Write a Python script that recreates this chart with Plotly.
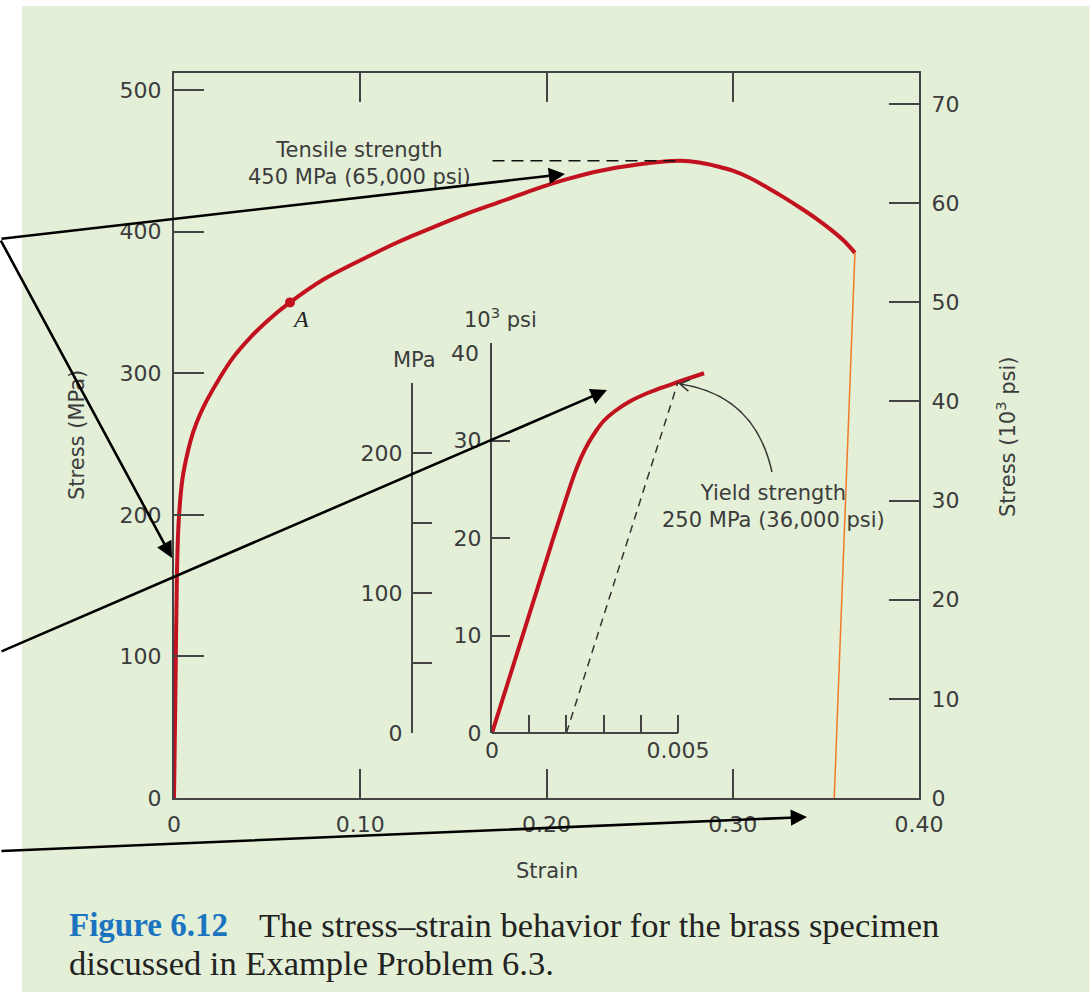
import math
import plotly.graph_objects as go

# ---------------- data ----------------
# main stress-strain curve for brass (strain, stress in MPa)
strain = [0, 0.0008, 0.0016, 0.0025, 0.0045, 0.0075, 0.0102, 0.0140, 0.0177,
          0.0247, 0.0317, 0.0408, 0.0510, 0.0623, 0.0800, 0.1036, 0.1210,
          0.1390, 0.1570, 0.1750, 0.1930, 0.2110, 0.2290, 0.2500, 0.2620,
          0.2720, 0.2820, 0.2920, 0.3000, 0.3090, 0.3180, 0.3270, 0.3360,
          0.3450, 0.3540, 0.3605, 0.3656]
stress_mpa = [0, 80, 160, 195, 225, 245, 258, 271, 281,
              297, 311, 325, 338, 350, 366, 382, 393,
              403, 412.5, 421, 429.5, 437, 443, 447.5, 449.3,
              450, 448.8, 446, 443, 438, 431.5, 424.5, 417,
              409, 400, 392.5, 385]

# point A on the curve
point_a_strain = 0.0623
point_a_mpa = 350

# fracture line
fracture_strain = [0.3656, 0.3544]
fracture_mpa = [385, -3]

# tensile strength
tensile_mpa = 450
tensile_psi = "65,000"
tensile_guide_strain = [0.171, 0.272]

# inset: initial portion (strain, stress in 10^3 psi)
inset_strain = [0, 0.0008, 0.0016, 0.0022, 0.0024, 0.0026, 0.0028, 0.0030,
                0.0033, 0.0037, 0.0042, 0.0050, 0.0057]
inset_ksi = [0, 9.7, 19.4, 26.4, 28.3, 29.8, 31.0, 32.0,
             33.0, 34.0, 34.9, 36.0, 36.9]

# yield strength (0.002 offset)
yield_mpa = 250
yield_psi = "36,000"
offset_strain = [0.002, 0.0050]
offset_ksi = [0, 36.0]

# tick values
main_x_ticks = [0, 0.1, 0.2, 0.3, 0.4]
main_x_text = ["0", "0.10", "0.20", "0.30", "0.40"]
main_mpa_ticks = [0, 100, 200, 300, 400, 500]
main_psi_ticks = [0, 10, 20, 30, 40, 50, 60, 70]
inset_x_labels = [0, 0.005]
inset_x_text = ["0", "0.005"]
inset_x_step = 0.001
inset_psi_labels = [0, 10, 20, 30]
inset_psi_top = 40
inset_psi_step = 10
inset_mpa_labels = [0, 100, 200]
inset_mpa_top = 250
inset_mpa_step = 50

# ---------------- layout geometry ----------------
W, H = 1089, 996
L, T, R, B = 174, 73, 919, 798


def px_x(x):
    return (x - L) / (R - L)


def px_y(y):
    return (B - y) / (B - T)


RED = "#c3121f"
AX = "#444444"
TXT = "#3c3c3c"
GREEN = "#e3efd6"
FONT = "DejaVu Sans"
SERIF = "Liberation Serif"

fig = go.Figure()

# main curve
fig.add_trace(go.Scatter(x=strain, y=stress_mpa, mode="lines",
                         line=dict(color=RED, width=4, shape="spline", smoothing=0.8),
                         hoverinfo="skip", showlegend=False))
# tensile strength guide
fig.add_trace(go.Scatter(x=tensile_guide_strain, y=[tensile_mpa, tensile_mpa], mode="lines",
                         line=dict(color="#111111", width=1.5, dash="12px,7px"),
                         hoverinfo="skip", showlegend=False))
# fracture line
fig.add_trace(go.Scatter(x=fracture_strain, y=fracture_mpa, mode="lines",
                         line=dict(color="#f07a28", width=1.5),
                         hoverinfo="skip", showlegend=False))
# point A
fig.add_trace(go.Scatter(x=[point_a_strain], y=[point_a_mpa], mode="markers",
                         marker=dict(color=RED, size=10),
                         hoverinfo="skip", showlegend=False))
# psi axis companion (right)
fig.add_trace(go.Scatter(x=[None], y=[None], yaxis="y2", showlegend=False, hoverinfo="skip"))

# inset curve
fig.add_trace(go.Scatter(x=inset_strain, y=inset_ksi, xaxis="x2", yaxis="y3", mode="lines",
                         line=dict(color=RED, width=4, shape="spline", smoothing=0.8),
                         hoverinfo="skip", showlegend=False))
fig.add_trace(go.Scatter(x=offset_strain, y=offset_ksi, xaxis="x2", yaxis="y3", mode="lines",
                         line=dict(color="#333333", width=1.5, dash="8px,6px"),
                         hoverinfo="skip", showlegend=False))
fig.add_trace(go.Scatter(x=[None], y=[None], xaxis="x2", yaxis="y4",
                         showlegend=False, hoverinfo="skip"))

tickfont = dict(family=FONT, size=22, color=TXT)

inset_x_max = 0.0058
inset_x_end = inset_x_labels[-1]


def minor_ticks(step, length):
    return dict(ticks="inside", ticklen=length, tickwidth=2, tickcolor=AX,
                dtick=step, tick0=0, showgrid=False)


fig.update_layout(
    width=W, height=H,
    margin=dict(l=L, r=W - R, t=T, b=H - B, pad=0),
    paper_bgcolor="white",
    plot_bgcolor="rgba(0,0,0,0)",
    showlegend=False,
    xaxis=dict(range=[0, 0.4], tickvals=main_x_ticks, ticktext=main_x_text,
               ticks="inside", ticklen=29, tickwidth=2, tickcolor=AX,
               showline=True, linewidth=2, linecolor=AX, mirror="ticks",
               showgrid=False, zeroline=False, tickfont=tickfont,
               ticklabelstandoff=6),
    yaxis=dict(range=[0, 512], tickvals=main_mpa_ticks,
               ticks="inside", ticklen=30, tickwidth=2, tickcolor=AX,
               showline=True, linewidth=2, linecolor=AX, mirror=True,
               showgrid=False, zeroline=False, tickfont=tickfont,
               ticklabelstandoff=6),
    yaxis2=dict(range=[0, 73.13], tickvals=main_psi_ticks, overlaying="y", side="right",
                ticks="inside", ticklen=30, tickwidth=2, tickcolor=AX,
                showline=True, linewidth=2, linecolor=AX,
                showgrid=False, zeroline=False, tickfont=tickfont,
                ticklabelstandoff=6),
    xaxis2=dict(domain=[px_x(492), px_x(492) + (px_x(678) - px_x(492)) * inset_x_max / inset_x_end],
                range=[0, inset_x_max], anchor="y3",
                tickvals=inset_x_labels, ticktext=inset_x_text,
                ticks="inside", ticklen=18, tickwidth=2, tickcolor=AX,
                minor=minor_ticks(inset_x_step, 18),
                showline=False, showgrid=False, zeroline=False, tickfont=tickfont,
                ticklabelstandoff=2),
    yaxis3=dict(domain=[px_y(733), px_y(343)], range=[0, inset_psi_top], anchor="x2",
                tickvals=inset_psi_labels,
                ticks="inside", ticklen=18, tickwidth=2, tickcolor=AX,
                minor=minor_ticks(inset_psi_step, 18),
                showline=True, linewidth=2, linecolor=AX,
                showgrid=False, zeroline=False, tickfont=tickfont,
                ticklabelstandoff=4),
    yaxis4=dict(domain=[px_y(733), px_y(383)], range=[0, inset_mpa_top], anchor="free",
                position=px_x(412), side="left",
                tickvals=inset_mpa_labels,
                ticks="inside", ticklen=19, tickwidth=2, tickcolor=AX,
                minor=minor_ticks(inset_mpa_step, 19),
                showline=True, linewidth=2, linecolor=AX,
                showgrid=False, zeroline=False, tickfont=tickfont,
                ticklabelstandoff=4),
)

shapes = []
# panel background
shapes.append(dict(type="rect", xref="paper", yref="paper",
                   x0=px_x(22), x1=px_x(1089), y0=px_y(992), y1=px_y(6),
                   fillcolor=GREEN, line=dict(width=0), layer="below"))
# inset strain axis line (ends at 0.005)
shapes.append(dict(type="line", xref="x2 domain", yref="y3 domain",
                   x0=0, x1=inset_x_end / inset_x_max, y0=0, y1=0,
                   line=dict(color=AX, width=2)))

# curved pointer from the yield label to the yield point
p0, pc, p1 = (772, 472), (755, 395), (680, 384)
path = "M {:.5f},{:.5f} Q {:.5f},{:.5f} {:.5f},{:.5f}".format(
    px_x(p0[0]), px_y(p0[1]), px_x(pc[0]), px_y(pc[1]), px_x(p1[0]), px_y(p1[1]))
shapes.append(dict(type="path", xref="paper", yref="paper", path=path,
                   line=dict(color="#333333", width=1.5)))
dx, dy = pc[0] - p1[0], pc[1] - p1[1]
n = math.hypot(dx, dy)
dx, dy = dx / n, dy / n
arms = []
for ang in (math.radians(32), math.radians(-32)):
    ca, sa = math.cos(ang), math.sin(ang)
    arms.append((p1[0] + 11 * (dx * ca - dy * sa), p1[1] + 11 * (dx * sa + dy * ca)))
head = "M {:.5f},{:.5f} L {:.5f},{:.5f} L {:.5f},{:.5f}".format(
    px_x(arms[0][0]), px_y(arms[0][1]), px_x(p1[0]), px_y(p1[1]),
    px_x(arms[1][0]), px_y(arms[1][1]))
shapes.append(dict(type="path", xref="paper", yref="paper", path=head,
                   line=dict(color="#333333", width=1.5)))
fig.update_layout(shapes=shapes)


def label(text, x, y, size=21, angle=0, family=FONT, color=TXT, xanchor="center"):
    fig.add_annotation(text=text, x=px_x(x), y=px_y(y), xref="paper", yref="paper",
                       showarrow=False, textangle=angle, xanchor=xanchor, yanchor="middle",
                       font=dict(family=family, size=size, color=color))


label("Tensile strength<br>{} MPa ({} psi)".format(tensile_mpa, tensile_psi), 359, 163)
label("Yield strength<br>{} MPa ({} psi)".format(yield_mpa, yield_psi), 773, 506)
label("Stress (MPa)", 77, 435, angle=-90)
label("Stress (10<sup>3</sup> psi)", 1006, 437, angle=-90)
label("Strain", 547, 871)
label("10<sup>3</sup> psi", 500, 318)
label("MPa", 414, 360)
label(str(inset_psi_top), 465, 353, size=22)
label("<i>A</i>", 300, 319, size=24, family=SERIF, color="#222222")

# caption
label("<b>Figure 6.12</b>", 67, 925, size=33, family=SERIF, color="#1b74c0", xanchor="left")
label("The stress\u2013strain behavior for the brass specimen", 257, 925, size=34.5,
      family=SERIF, color="#222222", xanchor="left")
label("discussed in Example Problem 6.3.", 67, 963, size=34.5, family=SERIF,
      color="#222222", xanchor="left")

# callout arrows (tip, tail) in pixels
callouts = [((565, 174), (-14, 239)),
            ((172, 558), (-14, 239)),
            ((607, 390), (-14, 652)),
            ((807, 817), (-14, 851))]
for (tx, ty), (sx, sy) in callouts:
    fig.add_annotation(x=px_x(tx), y=px_y(ty), xref="paper", yref="paper",
                       ax=sx - tx, ay=sy - ty, axref="pixel", ayref="pixel",
                       text="", showarrow=True, arrowhead=2, arrowsize=1.25,
                       arrowwidth=2.6, arrowcolor="black", standoff=0)

fig.write_html("out.html", config={"displayModeBar": False})
